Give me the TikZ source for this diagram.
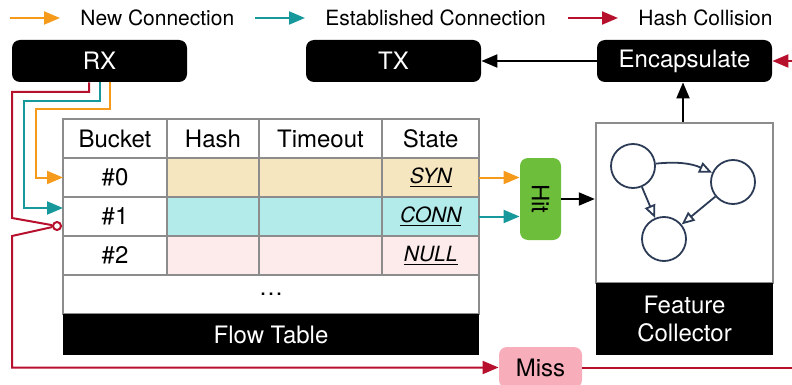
\documentclass[tikz,border=0pt]{standalone}
\usepackage{fontspec}
\setmainfont{TeX Gyre Heros}
\usetikzlibrary{arrows.meta}
\definecolor{newc}{HTML}{F59A1B}
\definecolor{estc}{HTML}{17999B}
\definecolor{colc}{HTML}{B7102D}
\definecolor{gridc}{HTML}{8C8C8C}
\definecolor{synfill}{HTML}{F5E6C0}
\definecolor{connfill}{HTML}{B3EAEA}
\definecolor{nullfill}{HTML}{FDEBEB}
\definecolor{hitfill}{HTML}{6DBE3B}
\definecolor{missfill}{HTML}{F7AEBA}
\definecolor{graphc}{HTML}{2B3A55}
\newcommand{\blkfont}{\fontsize{12}{14}\selectfont}
\newcommand{\legfont}{\fontsize{10.5}{12}\selectfont}
\newcommand{\stfont}{\fontsize{10.5}{12}\selectfont\itshape}
\newcommand{\stname}[1]{\raisebox{-2.75pt}[0pt][0pt]{\stfont\underline{#1}}}
\tikzset{
	tip/.style={-{Triangle[length=8pt,width=6.5pt]}},
	newconn/.style={tip, draw=newc, line width=1pt},
	estconn/.style={tip, draw=estc, line width=1pt},
	collide/.style={draw=colc, line width=1pt},
	blackarr/.style={tip, draw=black, line width=1pt},
	blkbox/.style={rectangle, rounded corners=4pt, fill=black, text=white, font=\blkfont,
		minimum width=87.5pt, minimum height=21pt, inner sep=0pt},
	cell/.style={rectangle, draw=gridc, line width=1.2pt, font=\blkfont,
		minimum height=19.5pt, inner sep=0pt, outer sep=0pt},
	gnode/.style={circle, draw=graphc, line width=0.9pt, minimum size=22pt, inner sep=0pt},
	garr/.style={draw=graphc, line width=0.9pt, -{Triangle[open,length=6.5pt,width=5.5pt]}},
}

\begin{document}
\begin{tikzpicture}[x=0.5pt, y=-0.5pt]
	\useasboundingbox (0,0) rectangle (792,385);
	\coordinate (l0a) at (10,18);
	\coordinate (l0b) at (60,18);
	\coordinate (l1a) at (255,18);
	\coordinate (l1b) at (305,18);
	\coordinate (l2a) at (568,18);
	\coordinate (l2b) at (618,18);
	\node (t0) [anchor=west, font=\legfont, inner sep=0pt] at (80,18) {New Connection};
	\node (t1) [anchor=west, font=\legfont, inner sep=0pt] at (325,18) {Established Connection};
	\node (t2) [anchor=west, font=\legfont, inner sep=0pt] at (638,18) {Hash Collision};
	\draw [newconn] (l0a) -- (l0b);
	\draw [estconn] (l1a) -- (l1b);
	\draw [collide, tip] (l2a) -- (l2b);

	\node (rx) [blkbox] at (99.5,61) {RX};
	\node (tx) [blkbox] at (393.5,61) {TX};
	\node (encap) [blkbox] at (684.5,61) {Encapsulate};

	\node (hb) [cell, minimum width=52pt] at (115,138.5) {Bucket};
	\node (hh) [cell, minimum width=46pt] at (213,138.5) {Hash};
	\node (ht) [cell, minimum width=61.5pt] at (320.5,138.5) {Timeout};
	\node (hs) [cell, minimum width=48.5pt] at (430.75,138.5) {State};
	\node (b0) [cell, minimum width=52pt] at (115,177.5) {\#0};
	\node (h0) [cell, minimum width=46pt, fill=synfill] at (213,177.5) {};
	\node (m0) [cell, minimum width=61.5pt, fill=synfill] at (320.5,177.5) {};
	\node (s0) [cell, minimum width=48.5pt, fill=synfill] at (430.75,177.5) {\stname{SYN}};
	\node (b1) [cell, minimum width=52pt] at (115,216.5) {\#1};
	\node (h1) [cell, minimum width=46pt, fill=connfill] at (213,216.5) {};
	\node (m1) [cell, minimum width=61.5pt, fill=connfill] at (320.5,216.5) {};
	\node (s1) [cell, minimum width=48.5pt, fill=connfill] at (430.75,216.5) {\stname{CONN}};
	\node (b2) [cell, minimum width=52pt] at (115,255.5) {\#2};
	\node (h2) [cell, minimum width=46pt, fill=nullfill] at (213,255.5) {};
	\node (m2) [cell, minimum width=61.5pt, fill=nullfill] at (320.5,255.5) {};
	\node (s2) [cell, minimum width=48.5pt, fill=nullfill] at (430.75,255.5) {\stname{NULL}};
	\node (dots) [cell, minimum width=208pt] at (271,294.5) {\ldots};
	\node (ftab) [rectangle, fill=black, text=white, font=\blkfont, minimum width=208pt,
		minimum height=20.5pt, inner sep=0pt] at (271,334.75) {Flow Table};

	\node (hit) [rectangle, rounded corners=4pt, fill=hitfill, font=\blkfont,
		minimum width=20.5pt, minimum height=41pt, inner sep=0pt] at (540.5,199) {\rotatebox{-90}{Hit}};
	\node (miss) [rectangle, rounded corners=4pt, fill=missfill, font=\blkfont,
		minimum width=41.5pt, minimum height=20.5pt, inner sep=0pt] at (540.5,367.5) {Miss};

	\node (fc) [rectangle, draw=gridc, line width=1.2pt, minimum width=88.5pt,
		minimum height=80pt, inner sep=0pt] at (684.5,203) {};
	\node (fclab) [rectangle, fill=black, text=white, font=\blkfont, align=center,
		minimum width=88.5pt, minimum height=36pt, inner sep=0pt] at (684.5,319) {Feature\\Collector};
	\node (g1) [gnode] at (633,166) {};
	\node (g2) [gnode] at (733,182) {};
	\node (g3) [gnode] at (664,239) {};
	\draw [garr] (g1) to [bend left=15] (g2);
	\draw [garr] (g1) -- (g3);
	\draw [garr] (g2) -- (g3);

	\node (probe) [circle, draw=colc, fill=white, line width=1pt, minimum size=4pt,
		inner sep=0pt] at (57,226) {};
	\coordinate (rxr) at ([xshift=-5.25pt]rx.south);
	\coordinate (rxt) at (rx.south);
	\coordinate (rxo) at ([xshift=5.25pt]rx.south);
	\coordinate (eout) at (792,367.5);
	\coordinate (ein) at (792,61);

	\draw [newconn] (rxo) |- (36,109) |- (b0.west);
	\draw [estconn] (rxt) |- (24,101) |- ([yshift=4.25pt]b1.west);
	\draw [collide] (rxr) |- (12,92) -- (12,218) -- (probe);
	\draw [collide, tip] (probe) -- (12,236) |- (miss.west);
	\draw [collide] (miss.east) -- (eout);
	\draw [collide, tip] (ein) -- (encap.east);

	\draw [newconn] (s0.east) -- (s0.east -| hit.west);
	\draw [estconn] (s1.east) -- (s1.east -| hit.west);
	\draw [blackarr] (hit.east) -- (hit.east -| fc.west);
	\draw [blackarr] (fc.north -| 683,0) -- (encap.south -| 683,0);
	\draw [blackarr] (encap.west) -- (tx.east);
\end{tikzpicture}
\end{document}
